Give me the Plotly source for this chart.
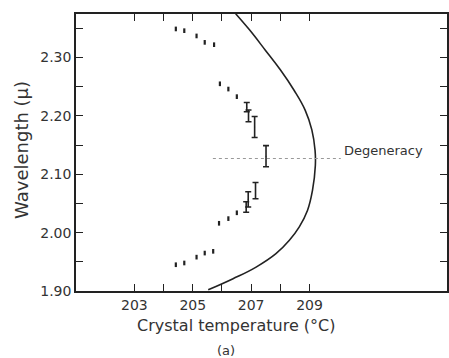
import plotly.graph_objects as go

# Phase-matching curve
curve_temp = [206.47, 206.95, 207.48, 208.00, 208.47, 208.85, 209.08, 209.19, 209.20,
              209.10, 208.93, 208.65, 208.31, 207.85, 207.17, 206.38, 205.53]
curve_wl = [2.375, 2.347, 2.313, 2.279, 2.244, 2.210, 2.176, 2.141, 2.115,
            2.072, 2.038, 2.010, 1.987, 1.964, 1.941, 1.921, 1.902]

# Measured points shown as short marks
dot_temp = [204.42, 204.71, 205.13, 205.41, 205.73, 205.93, 206.22, 206.51,
            206.51, 206.22, 205.90, 205.70, 205.41, 205.13, 204.71, 204.42]
dot_wl = [2.349, 2.346, 2.337, 2.326, 2.322, 2.255, 2.246, 2.233,
          2.034, 2.024, 2.016, 1.968, 1.965, 1.958, 1.948, 1.945]
dot_err = [0.004] * len(dot_temp)

# Measured points with error bars
bar_temp = [206.85, 206.91, 207.12, 207.51, 207.15, 206.90, 206.83]
bar_wl = [2.215, 2.200, 2.181, 2.131, 2.072, 2.057, 2.044]
bar_err = [0.008, 0.010, 0.018, 0.018, 0.014, 0.013, 0.009]

degeneracy_wl = 2.127
degeneracy_temp = [205.69, 210.07]

x_ticks = [203, 204, 205, 206, 207, 208, 209]
x_labels = ["203", "", "205", "", "207", "", "209"]
y_ticks = [1.90, 1.95, 2.00, 2.05, 2.10, 2.15, 2.20, 2.25, 2.30, 2.35]
y_labels = ["1.90", "", "2.00", "", "2.10", "", "2.20", "", "2.30", ""]

ink = "#222222"
font = "DejaVu Sans"

fig = go.Figure()
fig.add_trace(go.Scatter(x=curve_temp, y=curve_wl, mode="lines",
                         line=dict(color=ink, width=1.6, shape="spline", smoothing=1.2),
                         hoverinfo="skip"))
fig.add_trace(go.Scatter(x=degeneracy_temp, y=[degeneracy_wl, degeneracy_wl], mode="lines",
                         line=dict(color="#999999", width=1, dash="dot"), hoverinfo="skip"))
fig.add_trace(go.Scatter(x=dot_temp, y=dot_wl, mode="markers",
                         marker=dict(size=1, color=ink),
                         error_y=dict(type="data", array=dot_err, color=ink,
                                      thickness=2.2, width=0)))
fig.add_trace(go.Scatter(x=bar_temp, y=bar_wl, mode="markers",
                         marker=dict(size=1, color=ink),
                         error_y=dict(type="data", array=bar_err, color=ink,
                                      thickness=1.6, width=3)))

fig.add_annotation(x=210.1, y=2.14, text="Degeneracy", showarrow=False,
                   xanchor="left", yanchor="middle",
                   font=dict(family=font, size=13, color="#333333"))
fig.add_annotation(x=0.43, y=-0.123, xref="paper", yref="paper",
                   text="Crystal temperature (°C)", showarrow=False,
                   xanchor="center", yanchor="middle",
                   font=dict(family=font, size=16, color="#333333"))
fig.add_annotation(x=0.405, y=-0.216, xref="paper", yref="paper",
                   text="(a)", showarrow=False, xanchor="center", yanchor="middle",
                   font=dict(family=font, size=13, color="#333333"))
fig.add_annotation(x=-0.145, y=0.51, xref="paper", yref="paper",
                   text="Wavelength (μ)", showarrow=False, textangle=-90,
                   xanchor="center", yanchor="middle",
                   font=dict(family=font, size=18, color="#333333"))

fig.update_layout(
    width=449, height=358,
    margin=dict(l=76, r=0, t=14, b=67),
    paper_bgcolor="white", plot_bgcolor="white",
    showlegend=False,
    font=dict(family=font, color="#333333"),
)
fig.update_xaxes(range=[201.0, 213.71], tickvals=x_ticks, ticktext=x_labels,
                 ticks="inside", ticklen=7, tickcolor=ink, tickwidth=1.2,
                 showline=True, linecolor=ink, linewidth=1.5, mirror="ticks",
                 showgrid=False, zeroline=False,
                 tickfont=dict(family=font, size=14, color="#333333"))
fig.update_yaxes(range=[1.90, 2.3746], tickvals=y_ticks, ticktext=y_labels,
                 ticks="inside", ticklen=7, tickcolor=ink, tickwidth=1.2,
                 showline=True, linecolor=ink, linewidth=1.5, mirror="ticks",
                 showgrid=False, zeroline=False,
                 tickfont=dict(family=font, size=14, color="#333333"))

fig.write_html("out.html", config={"displayModeBar": False},
               post_script="document.body.style.margin='0';document.body.style.overflow='hidden';")
